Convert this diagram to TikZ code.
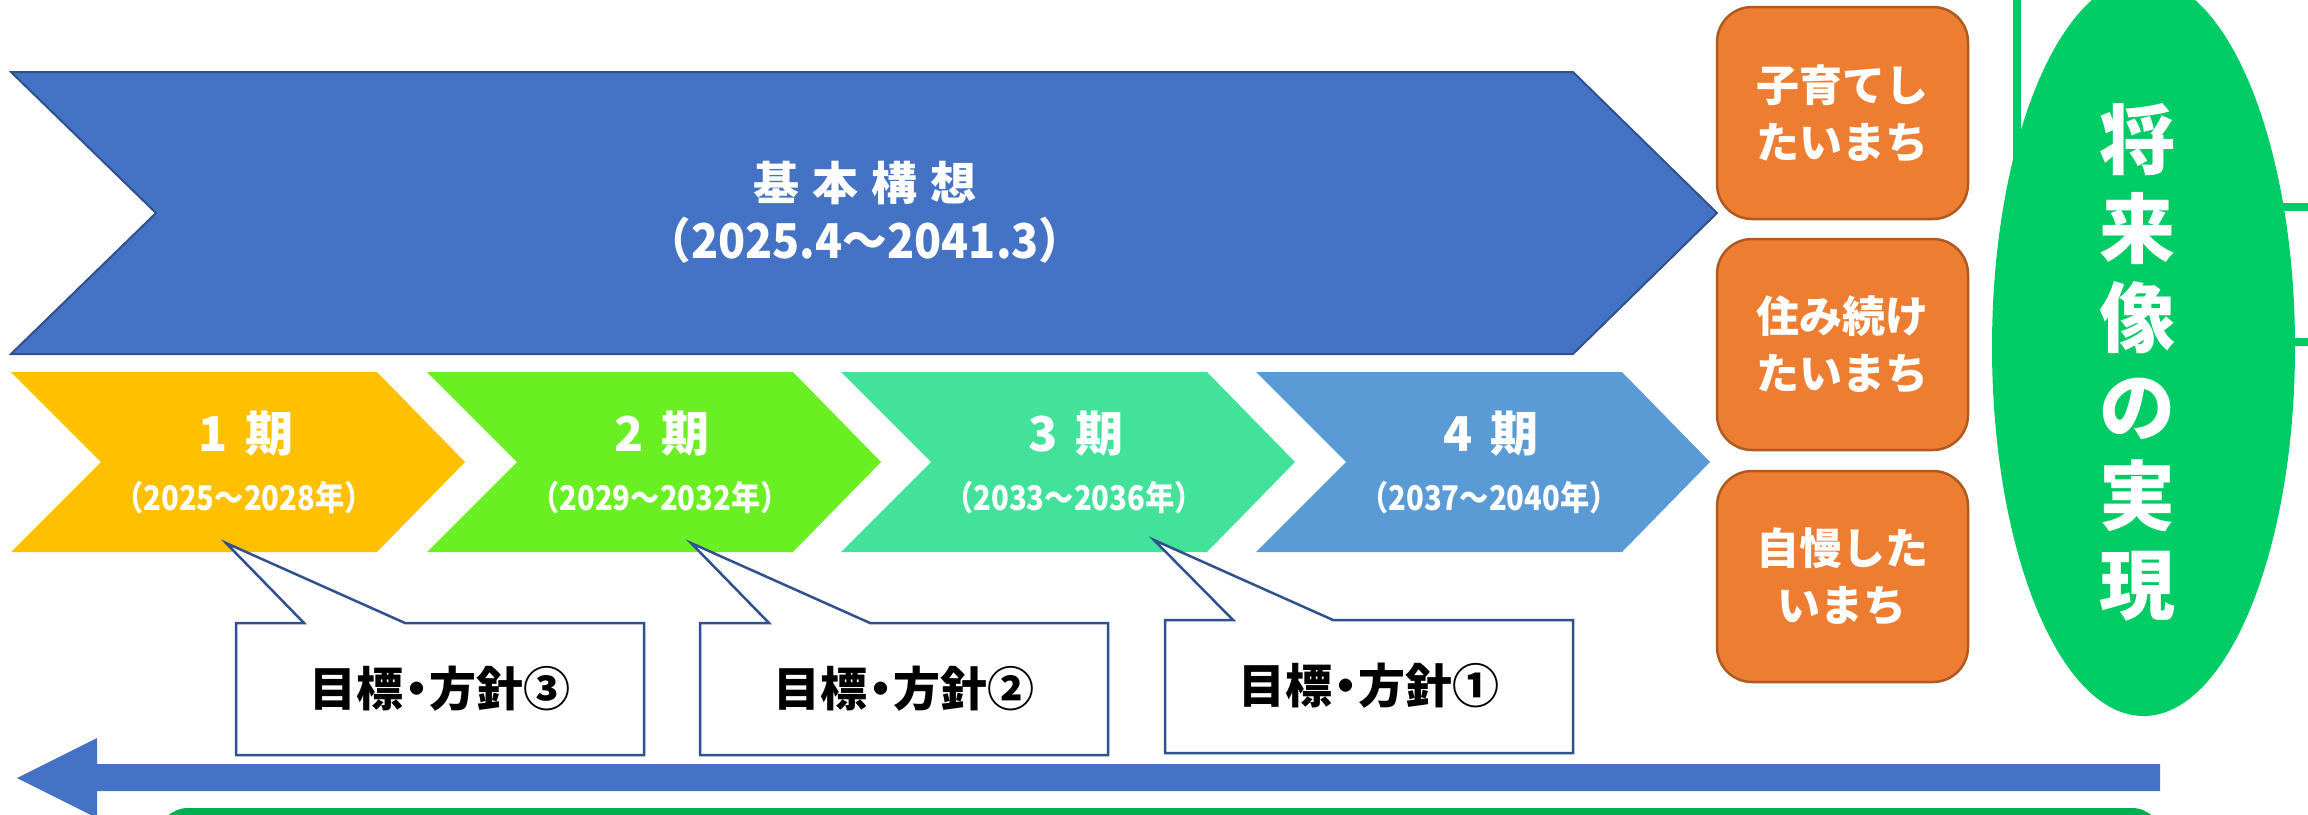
\documentclass[tikz,border=0pt]{standalone}
\usepackage{fontspec}
\setmainfont{Noto Sans CJK JP}
\usepackage{graphicx}
\definecolor{bigblue}{HTML}{4472C4}
\definecolor{darkblue}{HTML}{2F528F}
\definecolor{cone}{HTML}{FFC000}
\definecolor{ctwo}{HTML}{6AEF23}
\definecolor{cthree}{HTML}{42E29B}
\definecolor{cfour}{HTML}{5B9BD5}
\definecolor{obox}{HTML}{ED7D31}
\definecolor{oboxline}{HTML}{AE5A21}
\definecolor{ellgreen}{HTML}{00CC66}
\definecolor{botgreen}{HTML}{00B050}
\tikzset{
  chevtitle/.style={text=white, inner sep=0, font=\bfseries\fontsize{48}{56}\selectfont},
  chevsub/.style={text=white, inner sep=0, font=\bfseries\fontsize{34}{40}\selectfont},
  callshape/.style={fill=white, draw=darkblue, line width=2.5},
  calltext/.style={text=black, inner sep=0, font=\bfseries\fontsize{47}{52}\selectfont},
  oboxshape/.style={fill=obox, draw=oboxline, line width=2.5, rounded corners=35},
  oboxtext/.style={text=white, inner sep=0, align=center, font=\bfseries\fontsize{43}{57}\selectfont},
  greenline/.style={draw=ellgreen, line width=8},
}
\newcommand{\chev}[2]{%
  \fill[#2] (#1,372) -- ++(366,0) -- ++(88,90) -- ++(-88,90) -- ++(-366,0) -- ++(90,-90) -- cycle;}
\newcommand{\ndot}{\makebox[0.55em]{・}}
\begin{document}
\begin{tikzpicture}[x=1pt,y=-1pt]
\useasboundingbox (0,0) rectangle (2308,814);
\begin{scope}
\clip (0,0) rectangle (2308,814);
% green partial lines behind the ellipse
\draw[greenline] (2017,-10) -- (2017,300);
\draw[greenline] (2200,207) -- (2320,207);
\draw[greenline] (2200,342) -- (2320,342);
% ellipse
\fill[ellgreen] (2143.5,347) ellipse [x radius=151.5, y radius=369];
\node[text=white, inner sep=0, align=center, font=\bfseries\fontsize{76}{89}\selectfont] (vision) at (2137,362) {将\\来\\像\\の\\実\\現};
% bottom green shape
\fill[botgreen, rounded corners=30] (158,808) rectangle (2162,900);
% blue arrow
\fill[bigblue] (17,778) -- (97,738) -- (97,764) -- (2160,764) -- (2160,791) -- (97,791) -- (97,818) -- cycle;
\end{scope}
% big chevron
\filldraw[fill=bigblue, draw=darkblue, line width=2] (11,72) -- (1573,72) -- (1717,213) -- (1573,354) -- (11,354) -- (156,213) -- cycle;
\node[text=white, inner sep=0, font=\bfseries\fontsize{46}{54}\selectfont] (plan) at (865,183) {基\hspace{13pt}本\hspace{13pt}構\hspace{13pt}想};
\node[text=white, inner sep=0, font=\bfseries\fontsize{48}{54}\selectfont] (planyears) at (865,240) {\scalebox{0.93}[1]{（2025.4～2041.3）}};
% period chevrons
\chev{11}{cone}
\chev{427}{ctwo}
\chev{841}{cthree}
\chev{1256}{cfour}
\node[chevtitle] (p1) at (246,434) {1\hspace{18pt}期};
\node[chevsub] (p1y) at (244,498) {\scalebox{0.86}[1]{（2025～2028年）}};
\node[chevtitle] (p2) at (662,434) {2\hspace{18pt}期};
\node[chevsub] (p2y) at (660,498) {\scalebox{0.86}[1]{（2029～2032年）}};
\node[chevtitle] (p3) at (1076,434) {3\hspace{18pt}期};
\node[chevsub] (p3y) at (1074,498) {\scalebox{0.86}[1]{（2033～2036年）}};
\node[chevtitle] (p4) at (1491,434) {4\hspace{18pt}期};
\node[chevsub] (p4y) at (1489,498) {\scalebox{0.86}[1]{（2037～2040年）}};
% callouts
\filldraw[callshape] (236,623) -- (304,623) -- (226,543) -- (405,623) -- (644,623) -- (644,755) -- (236,755) -- cycle;
\node[calltext] (g3) at (440,689) {目標\ndot 方針③};
\filldraw[callshape] (700,623) -- (769,623) -- (691,543) -- (870,623) -- (1108,623) -- (1108,755) -- (700,755) -- cycle;
\node[calltext] (g2) at (904,689) {目標\ndot 方針②};
\filldraw[callshape] (1165,620) -- (1233,620) -- (1154,540) -- (1333,620) -- (1573,620) -- (1573,753) -- (1165,753) -- cycle;
\node[calltext] (g1) at (1369,686) {目標\ndot 方針①};
% orange boxes
\draw[oboxshape] (1717,7) rectangle (1968,219);
\node[oboxtext] (o1) at (1842,114) {子育てし\\たいまち};
\draw[oboxshape] (1717,239) rectangle (1968,450);
\node[oboxtext] (o2) at (1842,345) {住み続け\\たいまち};
\draw[oboxshape] (1717,471) rectangle (1968,682);
\node[oboxtext] (o3) at (1842,577) {自慢した\\いまち};
\end{tikzpicture}
\end{document}
